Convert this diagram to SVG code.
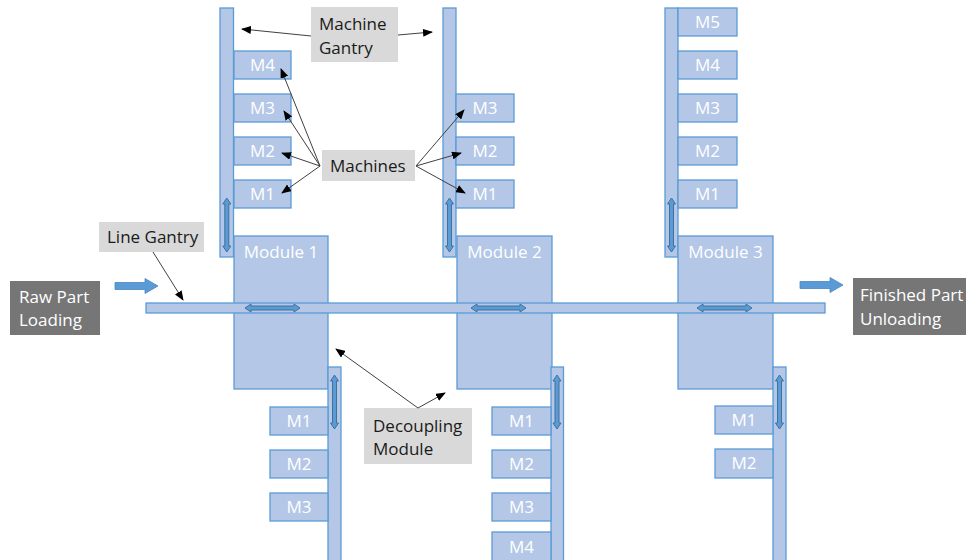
<svg xmlns="http://www.w3.org/2000/svg" width="966" height="560" viewBox="0 0 966 560">
<style>
.g{fill:#b4c7e7;stroke:#5b9bd5;stroke-width:1.3}
.m{fill:#b4c7e7;stroke:#5b9bd5;stroke-width:1.3}
.mt{font-family:"Open Sans","Liberation Sans",sans-serif;font-size:17px;fill:#ffffff;text-anchor:middle}
.mod{font-family:"Open Sans","Liberation Sans",sans-serif;font-size:17px;fill:#ffffff;text-anchor:middle}
.lab{fill:#d9d9d9}
.lt{font-family:"Open Sans","Liberation Sans",sans-serif;font-size:17px;fill:#1a1a1a}
.dk{fill:#767676}
.dt{font-family:"Open Sans","Liberation Sans",sans-serif;font-size:17px;fill:#ffffff}
.da{fill:#5b9bd5;stroke:#41719c;stroke-width:1}
.ba{fill:#5b9bd5;stroke:#4a86c0;stroke-width:0.8}
.ann{stroke:#404040;stroke-width:1;fill:none;marker-end:url(#ah)}
</style>
<defs>
<marker id="ah" markerUnits="userSpaceOnUse" markerWidth="10" markerHeight="8" refX="9" refY="4" orient="auto">
<path d="M0,0 L10,4 L0,8 Z" fill="#000"/>
</marker>
<path id="vda" d="M0,0 L4,6 L2,6 L2,48 L4,48 L0,54 L-4,48 L-2,48 L-2,6 L-4,6 Z"/>
<path id="hda" d="M0,0 L6,-4 L6,-2 L49,-2 L49,-4 L55,0 L49,4 L49,2 L6,2 L6,4 Z"/>
<path id="ba" d="M0,-3.5 H30 V-7.5 L43,0 L30,7.5 V3.5 H0 Z"/>
</defs>
<rect width="966" height="560" fill="#ffffff"/>

<!-- Module 1 column -->
<g id="gantry-top-1">
<rect class="g" x="220" y="8" width="13.5" height="249"/>
<use href="#vda" class="da" x="226.8" y="198"/>
</g>
<g id="m1-top-M4"><rect class="m" x="234" y="51" width="57" height="28"/><text class="mt" x="262.5" y="71">M4</text></g>
<g id="m1-top-M3"><rect class="m" x="234" y="94" width="57" height="28"/><text class="mt" x="262.5" y="114">M3</text></g>
<g id="m1-top-M2"><rect class="m" x="234" y="137" width="57" height="28"/><text class="mt" x="262.5" y="157">M2</text></g>
<g id="m1-top-M1"><rect class="m" x="234" y="180" width="57" height="28"/><text class="mt" x="262.5" y="200">M1</text></g>
<g id="module-1"><rect class="m" x="234" y="236" width="94" height="153"/><text class="mod" x="281" y="258">Module 1</text></g>
<g id="gantry-bot-1">
<rect class="g" x="328" y="367" width="13" height="200"/>
<use href="#vda" class="da" x="334.5" y="375"/>
</g>
<g id="m1-bot-M1"><rect class="m" x="270" y="407" width="58" height="28"/><text class="mt" x="299" y="427">M1</text></g>
<g id="m1-bot-M2"><rect class="m" x="270" y="450" width="58" height="28"/><text class="mt" x="299" y="470">M2</text></g>
<g id="m1-bot-M3"><rect class="m" x="270" y="493" width="58" height="28"/><text class="mt" x="299" y="513">M3</text></g>

<!-- Module 2 column -->
<g id="gantry-top-2">
<rect class="g" x="443" y="8" width="13" height="249"/>
<use href="#vda" class="da" x="449.5" y="198"/>
</g>
<g id="m2-top-M3"><rect class="m" x="456" y="94" width="58" height="28"/><text class="mt" x="485" y="114">M3</text></g>
<g id="m2-top-M2"><rect class="m" x="456" y="137" width="58" height="28"/><text class="mt" x="485" y="157">M2</text></g>
<g id="m2-top-M1"><rect class="m" x="456" y="180" width="58" height="28"/><text class="mt" x="485" y="200">M1</text></g>
<g id="module-2"><rect class="m" x="457" y="236" width="95" height="153"/><text class="mod" x="504.5" y="258">Module 2</text></g>
<g id="gantry-bot-2">
<rect class="g" x="551" y="367" width="12.5" height="200"/>
<use href="#vda" class="da" x="557" y="375"/>
</g>
<g id="m2-bot-M1"><rect class="m" x="492" y="407" width="59" height="28"/><text class="mt" x="521.5" y="427">M1</text></g>
<g id="m2-bot-M2"><rect class="m" x="492" y="450" width="59" height="28"/><text class="mt" x="521.5" y="470">M2</text></g>
<g id="m2-bot-M3"><rect class="m" x="492" y="493" width="59" height="28"/><text class="mt" x="521.5" y="513">M3</text></g>
<g id="m2-bot-M4"><rect class="m" x="492" y="532" width="59" height="40"/><text class="mt" x="521.5" y="553">M4</text></g>

<!-- Module 3 column -->
<g id="gantry-top-3">
<rect class="g" x="665" y="8" width="13" height="249"/>
<use href="#vda" class="da" x="671.5" y="198"/>
</g>
<g id="m3-top-M5"><rect class="m" x="678" y="8" width="59" height="28"/><text class="mt" x="707.5" y="28">M5</text></g>
<g id="m3-top-M4"><rect class="m" x="678" y="51" width="59" height="28"/><text class="mt" x="707.5" y="71">M4</text></g>
<g id="m3-top-M3"><rect class="m" x="678" y="94" width="59" height="28"/><text class="mt" x="707.5" y="114">M3</text></g>
<g id="m3-top-M2"><rect class="m" x="678" y="137" width="59" height="28"/><text class="mt" x="707.5" y="157">M2</text></g>
<g id="m3-top-M1"><rect class="m" x="678" y="180" width="59" height="28"/><text class="mt" x="707.5" y="200">M1</text></g>
<g id="module-3"><rect class="m" x="678" y="236" width="95" height="153"/><text class="mod" x="725.5" y="258">Module 3</text></g>
<g id="gantry-bot-3">
<rect class="g" x="773" y="367" width="13" height="200"/>
<use href="#vda" class="da" x="779.5" y="375"/>
</g>
<g id="m3-bot-M1"><rect class="m" x="715" y="406" width="58" height="28"/><text class="mt" x="744" y="426">M1</text></g>
<g id="m3-bot-M2"><rect class="m" x="715" y="449" width="58" height="29"/><text class="mt" x="744" y="469">M2</text></g>

<!-- Line gantry -->
<g id="line-gantry">
<rect class="g" x="146" y="303" width="679" height="10"/>
<use href="#hda" class="da" x="245" y="308"/>
<use href="#hda" class="da" x="471" y="308"/>
<use href="#hda" class="da" x="697" y="308"/>
</g>

<!-- Loading / unloading -->
<g id="raw-part-loading">
<rect class="dk" x="10" y="281" width="90" height="54"/>
<text class="dt" x="19" y="303">Raw Part</text>
<text class="dt" x="19" y="326">Loading</text>
</g>
<g id="finished-part-unloading">
<rect class="dk" x="853" y="278" width="113" height="57"/>
<text class="dt" x="860" y="301">Finished Part</text>
<text class="dt" x="860" y="325">Unloading</text>
</g>

<!-- Labels -->
<g id="label-machine-gantry">
<rect class="lab" x="311" y="7" width="87" height="55"/>
<text class="lt" x="319" y="30">Machine</text>
<text class="lt" x="319" y="54">Gantry</text>
</g>
<g id="label-machines">
<rect class="lab" x="322" y="150" width="93" height="31"/>
<text class="lt" x="330" y="172">Machines</text>
</g>
<g id="label-line-gantry">
<rect class="lab" x="99" y="222" width="105" height="30"/>
<text class="lt" x="107" y="243">Line Gantry</text>
</g>
<g id="label-decoupling-module">
<rect class="lab" x="364" y="408" width="108" height="56"/>
<text class="lt" x="373" y="432">Decoupling</text>
<text class="lt" x="373" y="455">Module</text>
</g>

<!-- Connectors -->
<g id="connectors">
<use href="#ba" class="ba" x="115" y="286"/>
<use href="#ba" class="ba" x="800" y="285"/>
<line class="ann" x1="311" y1="36" x2="242" y2="29"/>
<line class="ann" x1="398" y1="35" x2="432" y2="32"/>
<line class="ann" x1="320" y1="166" x2="281" y2="69"/>
<line class="ann" x1="320" y1="166" x2="284" y2="111"/>
<line class="ann" x1="320" y1="166" x2="282" y2="153"/>
<line class="ann" x1="320" y1="166" x2="282" y2="193"/>
<line class="ann" x1="416" y1="166" x2="464" y2="110"/>
<line class="ann" x1="416" y1="166" x2="461" y2="153"/>
<line class="ann" x1="416" y1="166" x2="465" y2="193"/>
<line class="ann" x1="153" y1="252" x2="183" y2="300"/>
<line class="ann" x1="418" y1="408" x2="336" y2="349"/>
<line class="ann" x1="418" y1="408" x2="445" y2="393"/>
</g>
</svg>
